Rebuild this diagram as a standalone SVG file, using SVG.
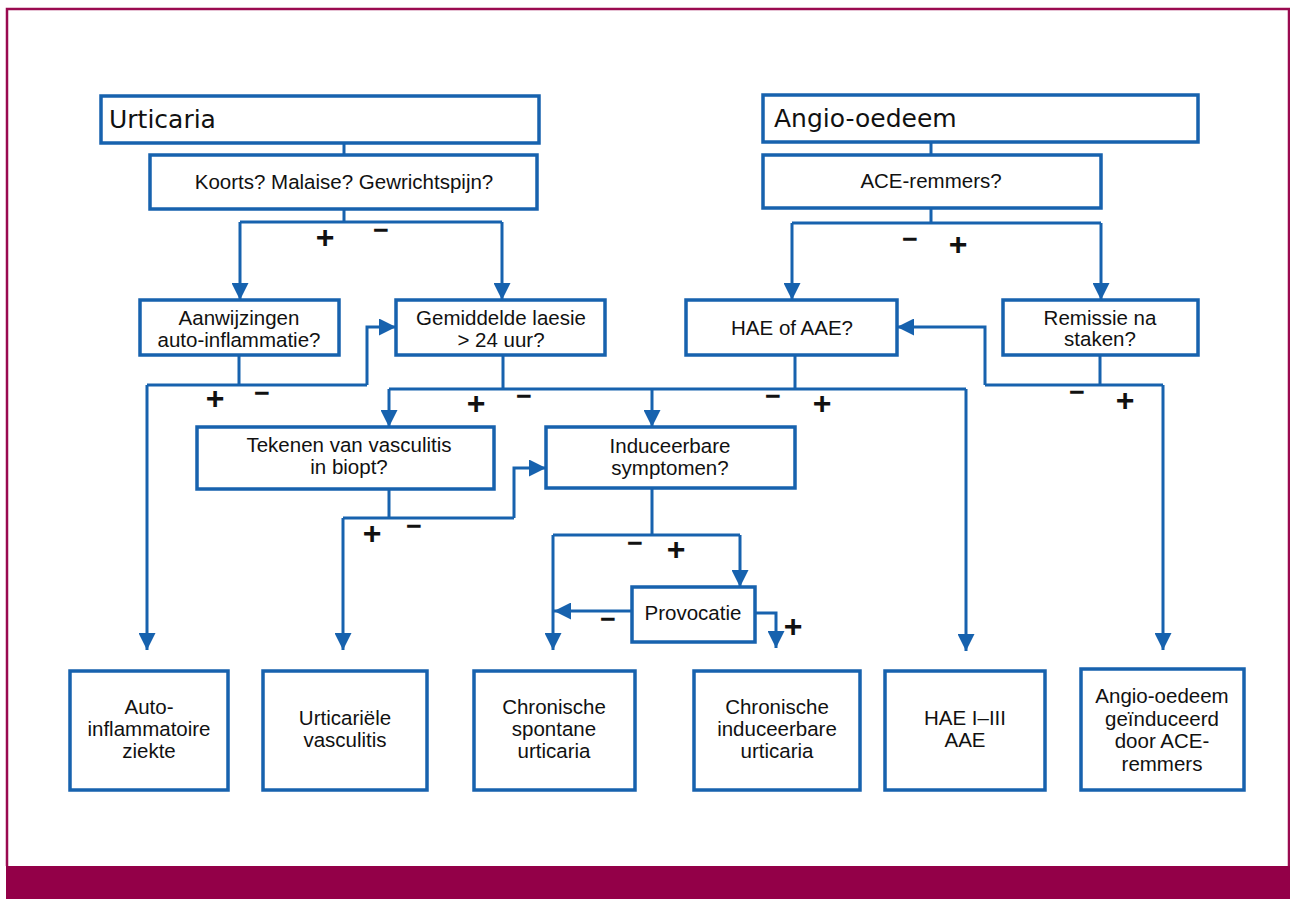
<svg xmlns="http://www.w3.org/2000/svg" width="1290" height="899" viewBox="0 0 1290 899">
<style>
.box{fill:#fff;stroke:#1762AE;stroke-width:3.5}
.ln{fill:none;stroke:#1762AE;stroke-width:3;stroke-linejoin:miter}
.arr{fill:none;stroke:#1762AE;stroke-width:3;marker-end:url(#ah)}
.t{font-family:"Liberation Sans",Arial,sans-serif;font-size:20.5px;fill:#111;text-anchor:middle}
.ttl{font-family:"DejaVu Sans",Verdana,sans-serif;font-size:25px;fill:#111}
.pl{font-family:"Liberation Sans",Arial,sans-serif;font-size:32px;font-weight:bold;fill:#111;text-anchor:middle}
.mi{font-family:"Liberation Sans",Arial,sans-serif;font-size:27px;font-weight:bold;fill:#111;text-anchor:middle}
</style>
<defs>
<marker id="ah" viewBox="0 0 17 17" refX="17" refY="8.5" markerWidth="17" markerHeight="17" markerUnits="userSpaceOnUse" orient="auto">
<path d="M0,0 L17,8.5 L0,17 z" fill="#1762AE"/>
</marker>
</defs>
<rect x="0" y="0" width="1290" height="899" fill="#fff"/>
<g id="frame">
<path d="M7,866 V9 H1289 V866" fill="none" stroke="#9A0A50" stroke-width="2.5"/>
<rect x="6" y="866" width="1284" height="33" fill="#930048"/>
</g>
<g id="connectors">
<path class="ln" d="M344,143 V155"/>
<path class="ln" d="M344,209 V222 M240,222 H502"/>
<path class="arr" d="M240,222 V300"/>
<path class="arr" d="M502,222 V300"/>
<path class="ln" d="M931,142 V155"/>
<path class="ln" d="M931,208 V223 M792,223 H1101"/>
<path class="arr" d="M792,223 V300"/>
<path class="arr" d="M1101,223 V300"/>
<path class="ln" d="M239,355 V385 M147,385 H367"/>
<path class="arr" d="M147,385 V650"/>
<path class="arr" d="M367,385 V327 H396"/>
<path class="ln" d="M503,355 V389 M795,355 V389 M389,389 H966"/>
<path class="arr" d="M389,389 V427"/>
<path class="arr" d="M652,389 V427"/>
<path class="arr" d="M966,389 V651"/>
<path class="ln" d="M1100,355 V385 M985,385 H1163"/>
<path class="arr" d="M985,385 V327 H897"/>
<path class="arr" d="M1163,385 V650"/>
<path class="ln" d="M389,489 V518 M343,518 H514"/>
<path class="arr" d="M343,518 V650"/>
<path class="arr" d="M514,518 V468 H546"/>
<path class="ln" d="M652,488 V535 M553,535 H740"/>
<path class="arr" d="M553,535 V650"/>
<path class="arr" d="M740,535 V587"/>
<path class="arr" d="M632,611 H554"/>
<path class="arr" d="M755,613 H776 V648"/>
</g>
<g id="signs">
<text class="pl" x="325" y="248">+</text><text class="mi" x="381" y="239">−</text>
<text class="mi" x="910" y="248">−</text><text class="pl" x="958" y="255">+</text>
<text class="pl" x="215" y="409">+</text><text class="mi" x="262" y="402">−</text>
<text class="pl" x="476" y="414">+</text><text class="mi" x="524" y="405">−</text>
<text class="mi" x="773" y="405">−</text><text class="pl" x="822" y="414">+</text>
<text class="mi" x="1077" y="401">−</text><text class="pl" x="1125" y="411">+</text>
<text class="pl" x="372" y="544">+</text><text class="mi" x="414" y="535">−</text>
<text class="mi" x="635" y="552">−</text><text class="pl" x="676" y="560">+</text>
<text class="mi" x="608" y="628">−</text><text class="pl" x="793" y="637">+</text>
</g>
<g id="n-urticaria"><rect class="box" x="101" y="96" width="438" height="47"/><text class="ttl" x="109" y="128">Urticaria</text></g>
<g id="n-koorts"><rect class="box" x="150" y="155" width="387" height="54"/><text class="t" x="344" y="189">Koorts? Malaise? Gewrichtspijn?</text></g>
<g id="n-angio"><rect class="box" x="763" y="95" width="435" height="47"/><text class="ttl" x="774" y="127">Angio-oedeem</text></g>
<g id="n-ace"><rect class="box" x="763" y="155" width="338" height="53"/><text class="t" x="931" y="188">ACE-remmers?</text></g>
<g id="n-aanw"><rect class="box" x="140" y="300" width="199" height="55"/><text class="t" x="239" y="325">Aanwijzingen</text><text class="t" x="239" y="347">auto-inflammatie?</text></g>
<g id="n-gem"><rect class="box" x="396" y="300" width="209" height="55"/><text class="t" x="501" y="325">Gemiddelde laesie</text><text class="t" x="501" y="347">&gt; 24 uur?</text></g>
<g id="n-hae"><rect class="box" x="686" y="300" width="211" height="55"/><text class="t" x="792" y="335">HAE of AAE?</text></g>
<g id="n-remissie"><rect class="box" x="1003" y="300" width="195" height="55"/><text class="t" x="1100" y="325">Remissie na</text><text class="t" x="1100" y="346">staken?</text></g>
<g id="n-tekenen"><rect class="box" x="197" y="427" width="297" height="62"/><text class="t" x="349" y="452">Tekenen van vasculitis</text><text class="t" x="349" y="474">in biopt?</text></g>
<g id="n-induc"><rect class="box" x="546" y="427" width="249" height="61"/><text class="t" x="670" y="453">Induceerbare</text><text class="t" x="670" y="475">symptomen?</text></g>
<g id="n-provocatie"><rect class="box" x="632" y="587" width="123" height="55"/><text class="t" x="693" y="620">Provocatie</text></g>
<g id="n-auto"><rect class="box" x="70" y="671" width="158" height="119"/><text class="t" x="149" y="714">Auto-</text><text class="t" x="149" y="736">inflammatoire</text><text class="t" x="149" y="758">ziekte</text></g>
<g id="n-uv"><rect class="box" x="263" y="671" width="164" height="119"/><text class="t" x="345" y="725">Urticariële</text><text class="t" x="345" y="747">vasculitis</text></g>
<g id="n-csu"><rect class="box" x="474" y="671" width="161" height="119"/><text class="t" x="554" y="714">Chronische</text><text class="t" x="554" y="736">spontane</text><text class="t" x="554" y="758">urticaria</text></g>
<g id="n-ciu"><rect class="box" x="694" y="671" width="166" height="119"/><text class="t" x="777" y="714">Chronische</text><text class="t" x="777" y="736">induceerbare</text><text class="t" x="777" y="758">urticaria</text></g>
<g id="n-hae13"><rect class="box" x="885" y="671" width="160" height="119"/><text class="t" x="965" y="725">HAE I–III</text><text class="t" x="965" y="747">AAE</text></g>
<g id="n-aoace"><rect class="box" x="1081" y="669" width="163" height="121"/><text class="t" x="1162" y="703">Angio-oedeem</text><text class="t" x="1162" y="726">geïnduceerd</text><text class="t" x="1162" y="748">door ACE-</text><text class="t" x="1162" y="771">remmers</text></g>
</svg>
